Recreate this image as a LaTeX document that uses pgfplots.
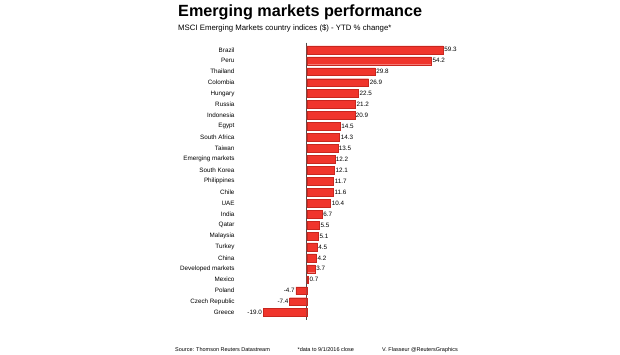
\documentclass[border=0pt]{standalone}
\usepackage{fontspec}
\setmainfont{Liberation Sans}
\usepackage{pgfplots}
\pgfplotsset{compat=1.18}
\definecolor{barred}{HTML}{F0352C}
\definecolor{baredge}{HTML}{C8261E}
\begin{document}
\begin{tikzpicture}[x=1pt,y=1pt]
\useasboundingbox[fill=white] (0pt,0pt) rectangle (620pt,354pt);
\node[anchor=base west,font=\fontsize{16.2}{19}\selectfont\bfseries,inner sep=0pt] at (178pt,337pt) {Emerging markets performance};
\node[anchor=base west,font=\fontsize{7.8}{9}\selectfont,inner sep=0pt] at (178pt,323pt) {MSCI Emerging Markets country indices (\$) - YTD \% change*};
\node[anchor=base west,font=\fontsize{5.5}{6}\selectfont,inner sep=0pt] at (175pt,3pt) {Source: Thomson Reuters Datastream};
\node[anchor=base west,font=\fontsize{5.5}{6}\selectfont,inner sep=0pt] at (297.5pt,3pt) {*data to 9/1/2016 close};
\node[anchor=base west,font=\fontsize{5.5}{6}\selectfont,inner sep=0pt] at (382pt,3pt) {V. Flasseur @ReutersGraphics};
\begin{axis}[
  at={(240pt,34.3pt)}, anchor=south west,
  width=218.5pt, height=277pt, scale only axis,
  xbar, bar width=0.72, bar shift=0pt,
  xmin=-29, xmax=66,
  ymin=-0.65, ymax=24.65,
  y dir=reverse,
  axis line style={draw=none},
  xtick=\empty,
  ytick={0,...,24},
  yticklabels={Brazil,Peru,Thailand,Colombia,Hungary,Russia,Indonesia,Egypt,South Africa,Taiwan,Emerging markets,South Korea,Philippines,Chile,UAE,India,Qatar,Malaysia,Turkey,China,Developed markets,Mexico,Poland,Czech Republic,Greece},
  major tick length=0pt,
  yticklabel style={font=\fontsize{6.3}{7}\selectfont, xshift=-2pt},
  extra x ticks={0}, extra x tick labels={},
  extra x tick style={grid=major, major grid style={draw=black!70, line width=0.6pt}},
  /pgf/number format/assume math mode=true,
  nodes near coords={\pgfmathprintnumber[fixed,fixed zerofill,precision=1]{\pgfplotspointmeta}},
  every node near coord/.append style={font=\fontsize{6.3}{7}\selectfont, inner sep=1pt},
  clip=false,
]
\addplot[fill=barred, draw=baredge, line width=0.4pt,
  every node near coord/.append style={anchor=west}] coordinates {
(59.3,0) (54.2,1) (29.8,2) (26.9,3) (22.5,4) (21.2,5) (20.9,6) (14.5,7) (14.3,8) (13.5,9) (12.2,10) (12.1,11) (11.7,12) (11.6,13) (10.4,14) (6.7,15) (5.5,16) (5.1,17) (4.5,18) (4.2,19) (3.7,20) (0.7,21)
};
\addplot[fill=barred, draw=baredge, line width=0.4pt,
  every node near coord/.append style={anchor=east}] coordinates {
(-4.7,22) (-7.4,23) (-19.0,24)
};
\end{axis}
\end{tikzpicture}
\end{document}
